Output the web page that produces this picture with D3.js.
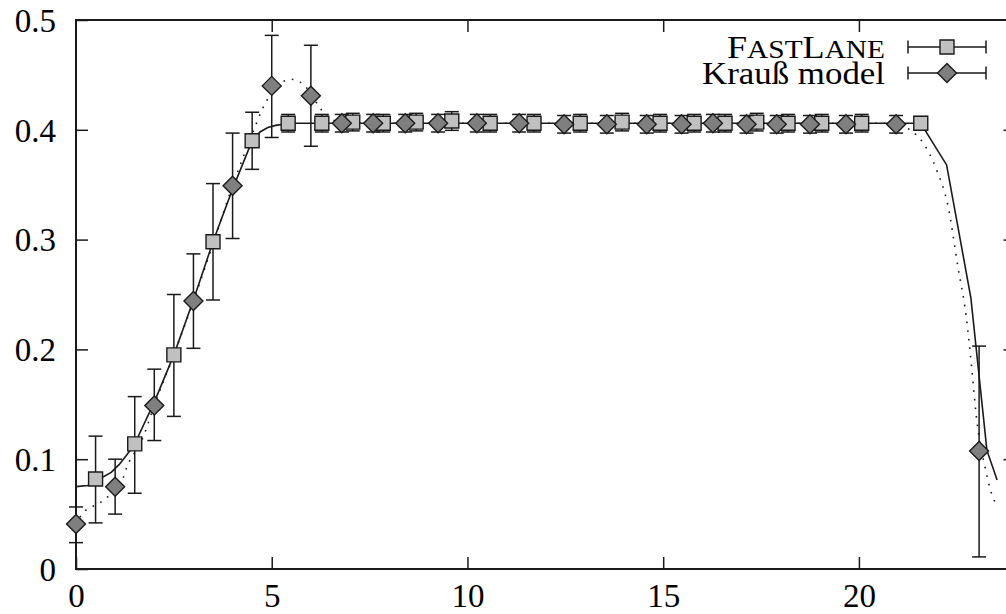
<!DOCTYPE html>
<html>
<head>
<meta charset="utf-8">
<script src="https://cdn.jsdelivr.net/npm/d3@7"></script>
<style>
  html, body { margin: 0; padding: 0; background: #fff; }
  svg { display: block; }
  text { font-family: "Liberation Serif", "DejaVu Serif", serif; fill: #000; }
</style>
</head>
<body>
<svg id="chart" width="1006" height="614"></svg>
<script>
// ---------- data ----------
const xTicks = [0, 5, 10, 15, 20];
const yTicks = [0, 0.1, 0.2, 0.3, 0.4, 0.5];
const yTickLabels = ["0", "0.1", "0.2", "0.3", "0.4", "0.5"];

const seriesNames = ["FastLane", "Krauß model"];

// FastLane (squares)
const fastX  = [0.5, 1.5, 2.5, 3.5, 4.5, 5.42, 6.28, 7.07, 7.85, 8.69, 9.6, 10.58, 11.70, 12.88, 13.95, 14.92, 15.79, 16.58, 17.39, 18.19, 19.05, 20.07, 21.58];
const fastY  = [0.082, 0.114, 0.195, 0.298, 0.390, 0.406, 0.406, 0.407, 0.406, 0.407, 0.408, 0.406, 0.406, 0.406, 0.407, 0.406, 0.406, 0.406, 0.407, 0.406, 0.406, 0.406, 0.406];
const fastLo = [0.042, 0.069, 0.139, 0.245, 0.364, 0.398, 0.398, 0.399, 0.398, 0.399, 0.3995, 0.398, 0.398, 0.398, 0.399, 0.398, 0.398, 0.398, 0.399, 0.398, 0.398, 0.398, 0.400];
const fastHi = [0.121, 0.157, 0.250, 0.351, 0.416, 0.414, 0.414, 0.415, 0.414, 0.415, 0.4165, 0.414, 0.414, 0.414, 0.415, 0.414, 0.414, 0.414, 0.415, 0.414, 0.414, 0.414, 0.412];

// Krauß model (diamonds)
const kraussX  = [0, 1, 2, 3, 4, 5, 6, 6.79, 7.59, 8.41, 9.25, 10.24, 11.32, 12.47, 13.56, 14.58, 15.47, 16.27, 17.13, 17.9, 18.75, 19.67, 20.95, 23.07];
const kraussY  = [0.041, 0.075, 0.149, 0.244, 0.349, 0.440, 0.431, 0.406, 0.406, 0.406, 0.406, 0.406, 0.406, 0.405, 0.405, 0.405, 0.405, 0.406, 0.405, 0.405, 0.405, 0.405, 0.405, 0.1075];
const kraussLo = [0.024, 0.050, 0.117, 0.201, 0.301, 0.393, 0.385, 0.398, 0.398, 0.398, 0.398, 0.398, 0.398, 0.397, 0.397, 0.397, 0.397, 0.398, 0.397, 0.397, 0.397, 0.397, 0.397, 0.011];
const kraussHi = [0.0565, 0.100, 0.182, 0.287, 0.397, 0.486, 0.477, 0.414, 0.414, 0.414, 0.414, 0.414, 0.414, 0.413, 0.413, 0.413, 0.413, 0.414, 0.413, 0.413, 0.413, 0.413, 0.413, 0.203];

// solid curve (FastLane trend)
const solidX = [0, 0.3, 0.5, 0.7, 0.9, 1.1, 1.3, 1.5, 2, 2.5, 3, 3.5, 4, 4.5, 4.7, 4.9, 5.1, 5.3, 5.42, 21.58, 22.24, 22.86, 23.27, 23.53];
const solidY = [0.075, 0.076, 0.082, 0.084, 0.088, 0.095, 0.104, 0.114, 0.152, 0.195, 0.245, 0.298, 0.346, 0.390, 0.398, 0.402, 0.404, 0.405, 0.406, 0.406, 0.368, 0.247, 0.108, 0.081];

// dotted curve (Krauß trend)
const dotX = [0, 0.15, 0.43, 0.68, 0.87, 1, 1.17, 1.3, 1.68, 2, 2.5, 3, 3.5, 4, 4.5, 4.75, 5, 5.25, 5.5, 5.75, 6, 6.25, 6.5, 6.8, 7.2, 20.95, 21.26, 21.64, 21.99, 22.28, 22.53, 22.74, 22.88, 23.0, 23.22, 23.36, 23.53];
const dotY = [0.040, 0.050, 0.057, 0.062, 0.068, 0.075, 0.080, 0.093, 0.117, 0.149, 0.195, 0.244, 0.296, 0.349, 0.396, 0.418, 0.434, 0.443, 0.446, 0.443, 0.433, 0.419, 0.410, 0.407, 0.406, 0.406, 0.401, 0.388, 0.363, 0.330, 0.275, 0.230, 0.184, 0.139, 0.093, 0.072, 0.057];

// ---------- layout ----------
const mLeft = 76, mRight = 1015.5, mTop = 20, mBottom = 569;
const svg = d3.select("#chart");

const x = d3.scaleLinear().domain([0, 24]).range([mLeft, mRight]);
const y = d3.scaleLinear().domain([0, 0.5]).range([mBottom, mTop]);

const ink = "#1a1a1a";
const tickLen = 12;
const tickFont = 33;

const gx = svg.append("g").attr("transform", `translate(0,${mBottom})`)
  .call(d3.axisBottom(x).tickValues(xTicks).tickSizeInner(-tickLen).tickSizeOuter(0).tickPadding(14).tickFormat(d3.format("d")));
const gxTop = svg.append("g").attr("transform", `translate(0,${mTop})`)
  .call(d3.axisTop(x).tickValues(xTicks.filter(d => d > 0)).tickSizeInner(-tickLen).tickSizeOuter(0).tickFormat(""));
const gy = svg.append("g").attr("transform", `translate(${mLeft},0)`)
  .call(d3.axisLeft(y).tickValues(yTicks).tickSizeInner(-tickLen).tickSizeOuter(0).tickPadding(20)
    .tickFormat((d, i) => yTickLabels[i]));
const gyR = svg.append("g").attr("transform", `translate(${mRight},0)`)
  .call(d3.axisRight(y).tickValues(yTicks.filter(d => d > 0 && d < 0.5)).tickSizeInner(-tickLen).tickSizeOuter(0).tickFormat(""));

[gx, gxTop, gy, gyR].forEach(g => {
  g.select(".domain").remove();
  g.selectAll(".tick line").attr("stroke", ink).attr("stroke-width", 1.5);
  g.selectAll(".tick text").attr("font-size", tickFont).attr("font-family", '"Liberation Serif", serif').attr("fill", "#000");
});
gx.selectAll(".tick text").attr("dy", "0.72em");
gy.selectAll(".tick text").attr("dy", "0.34em");

svg.append("rect").attr("x", mLeft).attr("y", mTop).attr("width", mRight - mLeft).attr("height", mBottom - mTop)
  .attr("fill", "none").attr("stroke", ink).attr("stroke-width", 2);

const plot = svg.append("g");

const line = d3.line().x(d => x(d[0])).y(d => y(d[1]));
plot.append("path").datum(solidX.map((v, i) => [v, solidY[i]]))
  .attr("d", line).attr("fill", "none").attr("stroke", ink).attr("stroke-width", 1.6);
plot.append("path").datum(dotX.map((v, i) => [v, dotY[i]]))
  .attr("d", d3.line().x(d => x(d[0])).y(d => y(d[1])).curve(d3.curveMonotoneX))
  .attr("fill", "none").attr("stroke", ink)
  .attr("stroke-width", 1.6).attr("stroke-dasharray", "1.6,7");

const cap = 7;
function marker(kind) {
  if (kind === "square") { const s = 7; return `M${-s},${-s}H${s}V${s}H${-s}Z`; }
  const r = 9.5; return `M0,${-r}L${r},0L0,${r}L${-r},0Z`;
}
function drawSeries(xs, ys, lo, hi, kind) {
  const g = plot.append("g");
  const data = xs.map((v, i) => ({ x: v, y: ys[i], lo: lo[i], hi: hi[i] }));
  const pts = g.selectAll("g").data(data).join("g");
  pts.append("line").attr("x1", d => x(d.x)).attr("x2", d => x(d.x))
    .attr("y1", d => y(d.lo)).attr("y2", d => y(d.hi)).attr("stroke", ink).attr("stroke-width", 1.5);
  pts.append("line").attr("x1", d => x(d.x) - cap).attr("x2", d => x(d.x) + cap)
    .attr("y1", d => y(d.lo)).attr("y2", d => y(d.lo)).attr("stroke", ink).attr("stroke-width", 1.5);
  pts.append("line").attr("x1", d => x(d.x) - cap).attr("x2", d => x(d.x) + cap)
    .attr("y1", d => y(d.hi)).attr("y2", d => y(d.hi)).attr("stroke", ink).attr("stroke-width", 1.5);
  pts.append("path").attr("transform", d => `translate(${x(d.x)},${y(d.y)})`)
    .attr("d", marker(kind))
    .attr("fill", kind === "square" ? "#c0c0c0" : "#7f7f7f")
    .attr("stroke", ink).attr("stroke-width", 1.4);
}
drawSeries(fastX, fastY, fastLo, fastHi, "square");
drawSeries(kraussX, kraussY, kraussLo, kraussHi, "diamond");

// legend
const legendRows = [47, 73];
const legendWidths = [158, 183];
const legX1 = 908, legX2 = 986, legMid = 947;
const legFont = 32;
seriesNames.forEach((name, i) => {
  const yy = legendRows[i];
  const kind = i === 0 ? "square" : "diamond";
  const g = svg.append("g");
  const t = g.append("text").attr("x", 885).attr("y", yy).attr("dy", "0.33em")
    .attr("text-anchor", "end").attr("font-size", legFont)
    .attr("textLength", legendWidths[i]).attr("lengthAdjust", "spacingAndGlyphs");
  if (i === 0) {
    const parts = name.match(/[A-Z]|[^A-Z]+/g);
    parts.forEach(p => {
      const ts = t.append("tspan").text(p);
      if (!/^[A-Z]$/.test(p)) ts.attr("font-size", legFont * 0.8 / 0.7).style("font-variant", "small-caps");
    });
  } else {
    t.text(name);
  }
  g.append("line").attr("x1", legX1).attr("x2", legX2).attr("y1", yy).attr("y2", yy).attr("stroke", ink).attr("stroke-width", 1.5);
  [legX1, legX2].forEach(xx => g.append("line").attr("x1", xx).attr("x2", xx).attr("y1", yy - 6.5).attr("y2", yy + 6.5)
    .attr("stroke", ink).attr("stroke-width", 1.5));
  g.append("path").attr("transform", `translate(${legMid},${yy})`).attr("d", marker(kind))
    .attr("fill", kind === "square" ? "#c0c0c0" : "#7f7f7f").attr("stroke", ink).attr("stroke-width", 1.4);
});
</script>
</body>
</html>
